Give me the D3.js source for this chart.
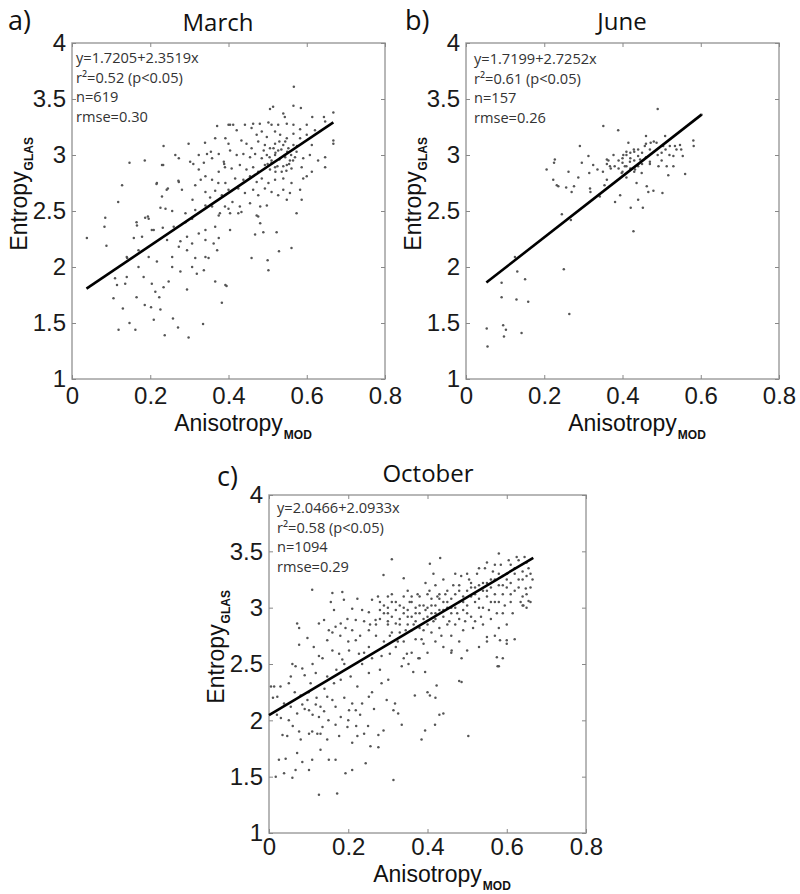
<!DOCTYPE html>
<html><head><meta charset="utf-8">
<script src="https://cdn.jsdelivr.net/npm/d3@7"></script>
<style>body{margin:0;background:#fff}</style>
</head><body>
<svg id="chart" width="800" height="894"></svg>
<script>
const panelLabels = ["a)", "b)", "c)"];
const months = ["March", "June", "October"];
const equations = ["y=1.7205+2.3519x", "y=1.7199+2.7252x", "y=2.0466+2.0933x"];
const r2Texts = ["r²=0.52 (p<0.05)", "r²=0.61 (p<0.05)", "r²=0.58 (p<0.05)"];
const nTexts = ["n=619", "n=157", "n=1094"];
const rmseTexts = ["rmse=0.30", "rmse=0.26", "rmse=0.29"];
const intercepts = [1.7205, 1.7199, 2.0466];
const slopes = [2.3519, 2.7252, 2.0933];
const lineXRanges = [[0.037, 0.668], [0.052, 0.602], [0, 0.667]];
const xTicks = [0, 0.2, 0.4, 0.6, 0.8];
const yTicks = [1, 1.5, 2, 2.5, 3, 3.5, 4];
const xTickLabels = ["0", "0.2", "0.4", "0.6", "0.8"];
const yTickLabels = ["1", "1.5", "2", "2.5", "3", "3.5", "4"];

const marchPoints = [
[0.038,2.26],[0.085,2.44],[0.083,2.36],[0.088,2.19],[0.118,2.58],[0.128,2.73],[0.147,2.93],[0.186,2.95],[0.234,3.08],[0.264,3.0],[0.298,3.10],[0.23,2.91],[0.217,2.75],[0.245,2.70],[0.273,2.76],[0.281,2.69],[0.23,2.63],
[0.106,1.72],[0.13,1.63],[0.119,1.44],[0.147,1.5],[0.162,1.44],[0.186,1.66],[0.202,1.64],[0.209,1.53],[0.226,1.62],[0.237,1.39],[0.258,1.54],[0.271,1.46],[0.298,1.37],[0.335,1.49],[0.383,1.68],
[0.115,1.84],[0.136,1.85],[0.14,1.91],[0.17,2.0],[0.183,1.91],[0.204,1.85],[0.213,1.78],[0.223,1.73],[0.234,1.82],[0.247,1.87],[0.256,2.0],[0.277,1.96],[0.294,1.8],[0.307,2.0],[0.319,1.94],[0.337,1.97],[0.366,1.87],[0.392,1.84],
[0.14,2.09],[0.17,2.15],[0.196,2.09],[0.217,2.05],[0.256,2.09],[0.273,2.18],[0.294,2.15],[0.315,2.08],[0.341,2.09],[0.349,2.08],[0.371,2.15],[0.158,2.26],[0.179,2.27],[0.204,2.33],[0.243,2.24],[0.277,2.23],[0.294,2.27],[0.307,2.21],[0.324,2.3],[0.341,2.24],[0.362,2.21],[0.375,2.26],[0.166,2.37],[0.196,2.43],[0.209,2.33],[0.232,2.35],[0.26,2.36],[0.29,2.4],[0.307,2.43],[0.341,2.33],[0.366,2.36],[0.187,2.44],[0.226,2.53],[0.239,2.52],[0.256,2.5],[0.29,2.48],[0.315,2.51],[0.341,2.55],[0.358,2.54],[0.375,2.46],
[0.273,2.97],[0.302,2.94],[0.324,3.0],[0.345,3.01],[0.337,2.93],[0.358,2.97],[0.375,3.01],[0.388,2.94],[0.324,2.87],[0.341,2.81],[0.358,2.78],[0.375,2.85],[0.392,2.75],[0.315,2.73],[0.341,2.67],[0.366,2.68],[0.383,2.64],[0.4,3.1],[0.366,3.15],[0.392,3.15],[0.371,3.26],[0.4,3.27],
[0.11,1.9],[0.141,2.08],[0.165,2.40],[0.165,1.73],[0.194,2.45],[0.216,2.74],[0.233,2.91],[0.242,2.69],[0.272,2.77],[0.31,2.92],[0.308,2.6],[0.329,2.78],[0.355,3.03],[0.353,2.62],[0.34,3.11],[0.374,2.75],[0.389,2.92],[0.378,2.48],[0.4,2.52],
[0.567,3.61],[0.506,3.41],[0.514,3.43],[0.566,3.44],[0.585,3.42],[0.54,3.37],[0.544,3.34],[0.614,3.34],[0.644,3.34],[0.668,3.38],
[0.404,3.27],[0.412,3.27],[0.442,3.27],[0.463,3.28],[0.48,3.28],[0.502,3.29],[0.51,3.27],[0.527,3.27],[0.549,3.28],[0.566,3.27],[0.583,3.23],[0.6,3.27],[0.621,3.22],[0.647,3.30],
[0.421,3.22],[0.459,3.24],[0.472,3.18],[0.485,3.21],[0.498,3.16],[0.519,3.21],[0.532,3.18],[0.549,3.15],[0.566,3.19],[0.583,3.15],[0.6,3.18],[0.668,3.13],[0.668,3.1],
[0.433,3.13],[0.446,3.1],[0.459,3.06],[0.476,3.12],[0.493,3.09],[0.506,3.06],[0.519,3.1],[0.527,3.04],[0.54,3.09],[0.553,3.06],[0.566,3.09],[0.574,3.03],[0.613,3.09],
[0.404,3.04],[0.421,3.0],[0.438,3.01],[0.455,2.98],[0.468,3.01],[0.485,2.97],[0.498,3.0],[0.51,2.95],[0.519,3.0],[0.532,2.97],[0.544,3.0],[0.557,2.95],[0.57,2.98],[0.591,2.97],[0.608,3.0],[0.629,2.95],[0.647,2.98],
[0.391,2.89],[0.408,2.88],[0.429,2.91],[0.446,2.87],[0.463,2.89],[0.476,2.85],[0.493,2.91],[0.506,2.87],[0.519,2.89],[0.536,2.85],[0.549,2.91],[0.561,2.88],[0.587,2.89],[0.613,2.85],[0.647,2.89],
[0.417,2.79],[0.438,2.78],[0.455,2.81],[0.472,2.76],[0.485,2.79],[0.502,2.75],[0.519,2.78],[0.54,2.79],[0.561,2.75],[0.591,2.79],[0.6,2.81],
[0.4,2.69],[0.425,2.7],[0.442,2.66],[0.463,2.69],[0.476,2.64],[0.493,2.7],[0.51,2.67],[0.527,2.64],[0.54,2.69],[0.557,2.66],[0.583,2.69],
[0.391,2.54],[0.41,2.58],[0.429,2.54],[0.455,2.57],[0.481,2.54],[0.498,2.55],[0.549,2.6],[0.587,2.6],
[0.404,2.48],[0.425,2.48],[0.433,2.49],[0.472,2.46],[0.481,2.39],[0.476,2.45],[0.574,2.48],
[0.404,2.33],[0.468,2.29],[0.489,2.31],[0.523,2.31],
[0.459,2.08],[0.5,2.06],[0.502,1.97],[0.529,2.14],[0.561,2.17],[0.395,1.83],
[0.51,2.93],[0.52,3.02],[0.53,2.96],[0.535,3.05],[0.545,2.98],[0.55,3.03],[0.555,2.92],[0.525,2.9],[0.515,3.06],[0.505,2.98],[0.545,3.12],[0.53,3.12],[0.56,3.0],[0.54,2.9],[0.52,2.85],[0.5,2.92],[0.49,3.04],[0.565,2.95],[0.575,3.08],[0.548,2.86]
];

const junePoints = [
[0.053,1.45],[0.055,1.29],[0.091,1.86],[0.091,1.73],[0.095,1.48],[0.097,1.38],[0.102,1.44],[0.125,2.09],[0.129,1.71],[0.131,1.96],[0.142,1.41],[0.151,1.89],[0.159,1.69],
[0.206,2.87],[0.223,2.78],[0.225,2.93],[0.227,2.96],[0.232,2.73],[0.236,2.72],[0.245,2.47],[0.25,1.98],[0.256,2.71],[0.262,2.85],[0.264,1.58],[0.268,2.42],[0.27,2.67],
[0.276,2.72],[0.287,2.8],[0.291,3.08],[0.296,2.93],[0.313,2.99],[0.315,2.84],[0.317,2.7],[0.318,2.67],[0.325,2.91],[0.336,2.87],
[0.342,2.63],[0.351,3.26],[0.354,2.73],[0.36,2.78],[0.364,2.95],[0.368,2.9],[0.377,3.0],[0.381,2.58],[0.389,3.22],[0.394,2.64],[0.398,2.84],
[0.402,3.0],[0.406,2.9],[0.41,3.03],[0.415,3.11],[0.419,2.94],[0.421,2.53],[0.428,2.32],[0.429,3.05],[0.432,2.87],
[0.436,2.75],[0.44,2.6],[0.445,2.96],[0.449,2.84],[0.452,2.53],[0.457,3.08],[0.46,3.17],[0.462,2.72],[0.466,2.67],[0.47,2.94],[0.472,3.11],
[0.479,2.68],[0.487,3.11],[0.49,3.41],[0.492,2.9],[0.5,3.02],[0.502,2.66],[0.504,3.08],[0.509,3.17],[0.513,2.9],[0.517,2.82],[0.521,3.08],
[0.53,2.99],[0.534,3.08],[0.538,3.05],[0.547,3.09],[0.554,2.99],[0.56,2.83],[0.581,3.13],[0.582,3.08],[0.602,3.36],
[0.38,2.9],[0.39,2.95],[0.39,2.88],[0.40,2.97],[0.40,2.93],[0.41,2.9],[0.41,3.0],[0.42,2.97],[0.42,3.02],[0.43,2.95],[0.43,3.03],[0.44,2.99],[0.44,3.05],[0.45,3.02],[0.45,2.92],[0.46,3.1],[0.46,2.98],[0.47,3.05],[0.47,2.92],[0.48,3.12],[0.37,2.88],[0.36,2.92],[0.35,2.85],[0.36,2.96],[0.42,2.88],[0.43,2.85],[0.44,2.9],[0.4,2.85],[0.41,2.8],[0.49,3.0],[0.5,2.95],[0.51,3.05],[0.52,3.0],[0.53,2.9],[0.55,3.05]
];

const octoberPoints = [
[0.109,3.16],[0.16,3.13],[0.185,3.14],[0.156,3.05],[0.164,2.98],[0.189,3.07],[0.223,3.08],[0.21,2.99],[0.235,2.98],[0.252,2.96],[0.26,3.07],[0.198,2.9],
[0.071,2.86],[0.076,2.82],[0.126,2.86],[0.139,2.89],[0.151,2.8],[0.168,2.83],[0.181,2.86],[0.193,2.82],[0.219,2.89],[0.24,2.88],[0.252,2.8],[0.269,2.89],[0.076,2.67],
[0.097,2.73],[0.113,2.65],[0.126,2.57],[0.135,2.55],[0.147,2.71],[0.16,2.62],[0.177,2.59],[0.185,2.54],[0.202,2.62],[0.219,2.71],[0.227,2.59],[0.252,2.65],[0.235,2.5],
[0.059,2.5],[0.067,2.48],[0.084,2.46],[0.055,2.39],[0.029,2.3],[0.013,2.3],[0.021,2.21],[0.05,2.33],[0.105,2.33],[0.118,2.42],[0.147,2.39],[0.164,2.33],[0.181,2.36],[0.206,2.39],[0.223,2.3],[0.252,2.42],
[0.038,2.15],[0.055,2.12],[0.071,2.06],[0.084,2.14],[0.097,2.18],[0.101,2.09],[0.118,2.14],[0.126,2.03],[0.139,2.08],[0.147,2.21],[0.168,2.12],[0.181,2.03],[0.202,2.09],[0.219,2.09],[0.235,2.15],[0.252,2.21],
[0.05,2.0],[0.034,1.87],[0.046,1.86],[0.076,1.9],[0.08,1.83],[0.101,1.88],[0.109,1.9],[0.122,1.88],[0.13,1.88],[0.135,1.94],[0.147,1.83],[0.168,1.96],[0.177,1.86],[0.198,1.94],[0.21,1.8],[0.223,1.86],[0.24,1.88],[0.256,1.77],
[0.025,1.65],[0.042,1.66],[0.067,1.56],[0.071,1.71],[0.084,1.63],[0.101,1.56],[0.109,1.65],[0.13,1.74],[0.151,1.65],[0.168,1.65],[0.193,1.53],[0.21,1.56],[0.244,1.62],[0.038,1.53],[0.017,1.5],[0.059,1.49],
[0.126,1.34],[0.172,1.35],
[0.09,2.1],[0.11,2.05],[0.12,2.2],[0.13,2.12],[0.15,2.0],[0.16,2.18],[0.19,2.2],[0.2,2.0],[0.21,2.15],[0.23,2.05],[0.1,2.25],[0.08,2.22],[0.14,2.28],[0.17,2.45],[0.19,2.5],[0.2,2.7],[0.18,2.75],[0.16,2.78],[0.21,2.8],[0.23,2.75],[0.24,2.6],[0.26,2.55],[0.11,2.5],[0.09,2.4],[0.02,2.05],[0.01,2.2],[0.005,2.3],[0.03,2.02],[0.06,1.95],[0.065,2.25],[0.26,2.25],[0.265,2.1],[0.25,1.95],[0.22,1.95],[0.255,2.85],
[0.284,2.33],[0.28,2.45],[0.301,2.36],[0.297,2.18],[0.318,2.15],[0.314,2.09],[0.326,2.06],[0.368,2.22],[0.406,2.22],[0.423,2.31],[0.44,2.06],[0.486,2.34],[0.335,1.96],[0.394,1.91],[0.419,1.96],[0.276,1.87],[0.289,1.91],[0.385,1.83],[0.503,1.86],[0.276,1.76],[0.314,1.47],[0.348,2.59],[0.377,2.55],[0.394,2.43],[0.364,2.43],[0.461,2.62],[0.486,2.55],[0.335,2.48],[0.352,2.5],[0.305,2.59],[0.284,2.57],
[0.31,3.43],[0.289,3.29],[0.34,3.26],[0.432,3.44],[0.406,3.39],
[0.27,2.75],[0.28,2.9],[0.28,3.05],[0.29,2.95],[0.29,2.7],[0.3,3.0],[0.3,2.85],[0.3,3.1],[0.31,2.92],[0.31,2.78],[0.31,3.05],[0.32,2.98],[0.32,2.86],[0.32,2.65],[0.33,3.02],[0.33,2.9],[0.33,2.78],[0.34,2.95],[0.34,3.1],[0.34,2.7],[0.35,2.98],[0.35,2.85],[0.35,3.15],[0.36,2.92],[0.36,2.8],[0.36,3.05],[0.37,3.0],[0.37,2.88],[0.37,2.72],[0.38,2.95],[0.38,3.1],[0.38,2.82],[0.39,3.02],[0.39,2.9],[0.39,2.68],[0.4,3.0],[0.4,3.12],[0.4,2.85],[0.41,2.95],[0.41,3.08],[0.41,2.78],[0.42,3.02],[0.42,2.9],[0.42,3.2],[0.43,2.98],[0.43,3.12],[0.43,2.82],[0.44,3.05],[0.44,2.92],[0.44,3.25],[0.45,3.0],[0.45,3.15],[0.45,2.85],[0.46,3.08],[0.46,2.95],[0.46,2.75],[0.47,3.12],[0.47,3.0],[0.47,3.3],[0.48,3.05],[0.48,2.9],[0.48,3.2],[0.49,3.1],[0.49,2.98],[0.49,2.8],[0.5,3.15],[0.5,3.02],[0.5,3.3],[0.51,3.1],[0.51,2.92],[0.51,3.22],[0.52,3.18],[0.52,3.05],[0.52,2.88],[0.53,3.2],[0.53,3.08],[0.53,3.35],[0.54,3.15],[0.54,3.0],[0.54,2.85],[0.55,3.22],[0.55,3.1],[0.55,3.4],[0.56,3.18],[0.56,3.05],[0.56,2.9],[0.57,3.25],[0.57,3.12],[0.57,3.38],[0.58,3.2],[0.58,3.05],[0.58,3.48],[0.59,3.28],[0.59,3.12],[0.59,2.95],[0.6,3.3],[0.6,3.18],[0.6,2.85],[0.61,3.22],[0.61,3.38],[0.61,3.05],[0.62,3.3],[0.62,3.15],[0.63,3.42],[0.63,3.25],[0.64,3.32],[0.64,3.1],[0.65,3.4],[0.65,3.28],[0.66,3.3],[0.66,3.18],[0.62,2.72],[0.6,2.68],[0.58,2.82],[0.57,2.75],[0.55,2.7],[0.53,2.65],[0.5,2.62],[0.48,2.7],[0.46,2.6],[0.44,2.65],[0.42,2.7],[0.4,2.6],[0.38,2.55],[0.36,2.6],[0.34,2.55],[0.65,3.0],[0.64,3.02],[0.66,3.05],[0.58,2.48],[0.59,2.55],[0.48,2.35],[0.43,2.05],[0.42,2.2],[0.4,2.25],
[0.575,2.56],[0.577,2.48],[0.6,2.71],[0.583,2.71],[0.55,2.74],[0.642,3.02],[0.655,3.06],[0.648,3.17],
[0.29,3.02],[0.3,2.95],[0.31,3.12],[0.32,3.05],[0.33,2.85],[0.34,3.0],[0.35,2.92],[0.36,3.1],[0.37,2.95],[0.38,3.02],[0.39,2.8],[0.4,2.92],[0.41,3.02],[0.42,2.95],[0.43,3.08],[0.44,2.98],[0.45,3.05],[0.46,3.0],[0.47,2.85],[0.48,3.15],[0.49,3.05],[0.5,2.95],[0.51,3.18],[0.52,3.12],[0.53,3.0],[0.54,3.22],[0.55,3.15],[0.56,3.25],[0.57,3.05],[0.58,3.3],[0.59,3.2],[0.6,3.25],[0.61,3.12],[0.62,3.35],[0.63,3.18],[0.64,3.25],[0.65,3.12],[0.655,3.35],[0.665,3.25],[0.405,3.15],[0.425,3.1],[0.445,3.12],[0.465,3.2],[0.485,3.28],[0.505,3.25],[0.525,3.3],[0.545,3.35],[0.565,3.32],[0.585,3.38],[0.605,3.42],[0.625,3.45],[0.645,3.45],[0.415,2.88],[0.435,2.75],[0.455,2.88],[0.475,2.95],[0.495,2.88],[0.515,2.82],[0.535,2.92],[0.555,2.98],[0.575,2.95],[0.595,3.02],[0.615,2.95],[0.635,3.05],[0.305,2.75],[0.325,2.7],[0.345,2.8],[0.365,2.85],[0.385,2.72],[0.395,2.98],[0.355,3.05],[0.375,3.12],[0.395,3.22],[0.415,3.3],[0.3,2.88],[0.28,2.98],[0.27,2.85],[0.275,3.1]
];

const pointSets = [marchPoints, junePoints, octoberPoints];

// layout (pixels)
const panels = [
  {x0: 72, x1: 385, y0: 43, y1: 379, titleX: 218, titleY: 31, letterX: 8, letterY: 30, textDx: 4, textY: 63, xLabPad: 8, xTitleY: 431},
  {x0: 466, x1: 779, y0: 43, y1: 379, titleX: 622, titleY: 30, letterX: 405, letterY: 30, textDx: 8, textY: 64, xLabPad: 8, xTitleY: 431},
  {x0: 269, x1: 586, y0: 495, y1: 833, titleX: 428, titleY: 482, letterX: 217, letterY: 486, textDx: 8, textY: 513, xLabPad: 5, xTitleY: 882}
];

const svg = d3.select("#chart");
const tickFont = "'Liberation Sans', Arial, sans-serif";
const calFont = "'Open Sans', 'Noto Sans', sans-serif";

panels.forEach((p, i) => {
  const x = d3.scaleLinear().domain([0, 0.8]).range([p.x0, p.x1]);
  const y = d3.scaleLinear().domain([1, 4]).range([p.y1, p.y0]);
  const g = svg.append("g");

  // frame
  g.append("rect").attr("x", p.x0).attr("y", p.y0)
    .attr("width", p.x1 - p.x0).attr("height", p.y1 - p.y0)
    .attr("fill", "none").attr("stroke", "#a0a0a0").attr("stroke-width", 1.5);

  // axes
  const ax = g.append("g").attr("transform", `translate(0,${p.y1})`)
    .call(d3.axisBottom(x).tickValues(xTicks).tickFormat((d, k) => xTickLabels[k]).tickSize(-4).tickPadding(p.xLabPad));
  const ay = g.append("g").attr("transform", `translate(${p.x0},0)`)
    .call(d3.axisLeft(y).tickValues(yTicks).tickFormat((d, k) => yTickLabels[k]).tickSize(-4).tickPadding(6));
  const axT = g.append("g").attr("transform", `translate(0,${p.y0})`)
    .call(d3.axisTop(x).tickValues(xTicks).tickFormat("").tickSize(-4));
  const ayR = g.append("g").attr("transform", `translate(${p.x1},0)`)
    .call(d3.axisRight(y).tickValues(yTicks).tickFormat("").tickSize(-4));
  [ax, ay, axT, ayR].forEach(a => {
    a.select(".domain").remove();
    a.selectAll(".tick line").attr("stroke", "#888").attr("stroke-width", 1);
    a.selectAll(".tick text").attr("font-family", tickFont).attr("font-size", 24).attr("fill", "#1a1a1a");
  });

  // points
  g.append("g").selectAll("circle").data(pointSets[i]).join("circle")
    .attr("cx", d => x(d[0])).attr("cy", d => y(d[1])).attr("r", 1.25)
    .attr("fill", "#555");

  // regression line
  const lx = lineXRanges[i];
  g.append("line")
    .attr("x1", x(lx[0])).attr("y1", y(intercepts[i] + slopes[i] * lx[0]))
    .attr("x2", x(lx[1])).attr("y2", y(intercepts[i] + slopes[i] * lx[1]))
    .attr("stroke", "#000").attr("stroke-width", 2.6);

  // stats text
  [equations[i], r2Texts[i], nTexts[i], rmseTexts[i]].forEach((t, k) => {
    g.append("text").attr("x", p.x0 + p.textDx).attr("y", p.textY + k * 19.7)
      .attr("font-family", calFont).attr("font-size", 14.6).attr("fill", "#333").text(t);
  });

  // title and panel letter
  g.append("text").attr("x", p.titleX).attr("y", p.titleY).attr("text-anchor", "middle")
    .attr("font-family", calFont).attr("font-size", 24).attr("fill", "#111").text(months[i]);
  g.append("text").attr("x", p.letterX).attr("y", p.letterY)
    .attr("font-family", calFont).attr("font-size", 27).attr("fill", "#111").text(panelLabels[i]);

  // x axis title
  const cx = (p.x0 + p.x1) / 2;
  const xt = g.append("text").attr("x", cx).attr("y", p.xTitleY).attr("text-anchor", "middle")
    .attr("font-family", tickFont).attr("font-size", 23).attr("fill", "#111").text("Anisotropy");
  const xw = xt.node().getComputedTextLength();
  g.append("text").attr("x", cx + xw / 2 + 1).attr("y", p.xTitleY + 8)
    .attr("font-family", tickFont).attr("font-size", 12).attr("font-weight", "bold").attr("fill", "#111").text("MOD");

  // y axis title
  const cy = (p.y0 + p.y1) / 2;
  const yg = g.append("g").attr("transform", `translate(${p.x0 - 45},${cy}) rotate(-90)`);
  const yt = yg.append("text").attr("x", 0).attr("y", 0).attr("text-anchor", "middle")
    .attr("font-family", tickFont).attr("font-size", 23).attr("fill", "#111").text("Entropy");
  const yw = yt.node().getComputedTextLength();
  yg.append("text").attr("x", yw / 2 + 1).attr("y", 6)
    .attr("font-family", tickFont).attr("font-size", 12).attr("font-weight", "bold").attr("fill", "#111").text("GLAS");
});
</script>
</body></html>
